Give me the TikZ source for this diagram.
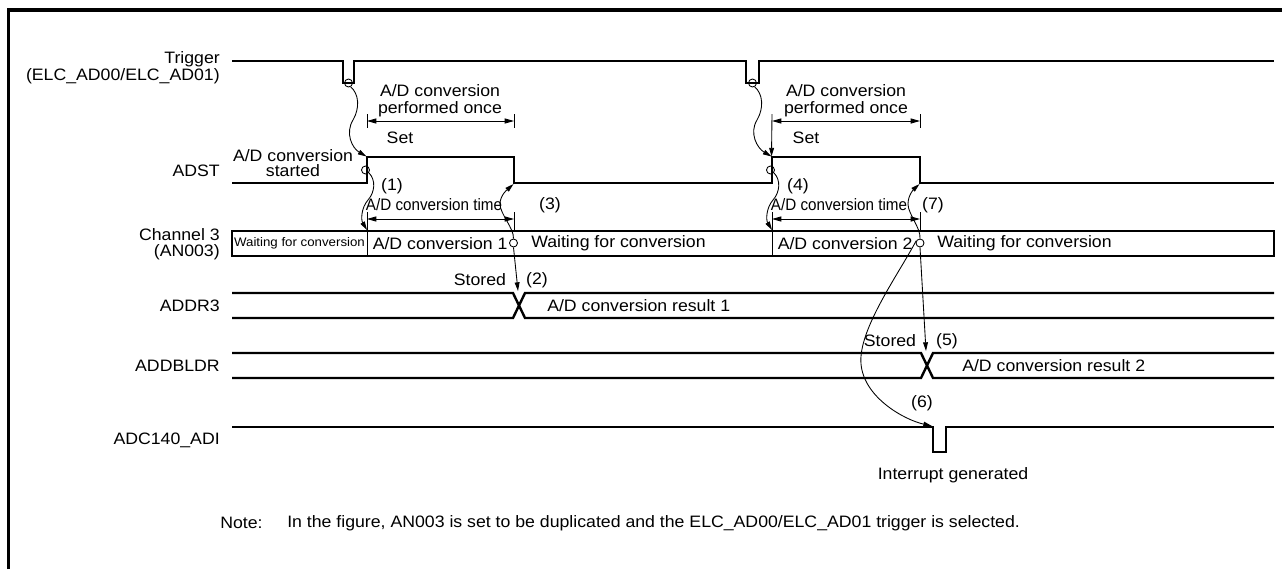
\documentclass[tikz,border=0pt]{standalone}
\usepackage{fontspec}
\setmainfont{Liberation Sans}[FakeStretch=1.07]
\newfontfamily\condfont{Liberation Sans}[FakeStretch=0.92]
\usetikzlibrary{arrows.meta}
\begin{document}
\begin{tikzpicture}[x=0.75pt,y=-0.75pt,
  sig/.style={line width=1.8pt,line join=miter},
  thinl/.style={line width=0.65pt},
  conn/.style={line width=0.65pt,-{Triangle[length=6.5pt,width=3.6pt]}},
  dimarr/.style={line width=0.65pt,{Triangle[length=7pt,width=3.8pt]}-{Triangle[length=7pt,width=3.8pt]}},
  circ/.style={circle,draw,line width=0.65pt,minimum size=6pt,inner sep=0pt},
  txt/.style={inner sep=0pt,font=\fontsize{12.4}{14}\selectfont},
]
\useasboundingbox (0,0) rectangle (1282,569);
% frame
\draw[line width=2.5pt] (8.5,569) -- (8.5,10) -- (1282,10);

% ---- signal labels
\node[txt,anchor=east,align=right,font=\fontsize{12.4}{10.4}\selectfont] (lTrig) at (220,68) {Trigger\\(ELC\_AD00/ELC\_AD01)};
\node[txt,anchor=east] (lAdst) at (220,171) {ADST};
\node[txt,anchor=east,align=right,font=\fontsize{12.4}{12.4}\selectfont] (lCh) at (220,244) {Channel 3\\(AN003)};
\node[txt,anchor=east] (lAddr) at (220,306) {ADDR3};
\node[txt,anchor=east] (lDbl) at (220,366) {ADDBLDR};
\node[txt,anchor=east] (lAdi) at (220,440) {ADC140\_ADI};

% ---- Trigger
\draw[sig] (232,61) -- (343,61) -- (343,83) -- (354,83) -- (354,61) -- (746,61) -- (746,83) -- (759,83) -- (759,61) -- (1274,61);
\node[circ] (T1) at (348.5,83) {};
\node[circ] (T2) at (752.5,83) {};

% ---- ADST
\draw[sig] (232,183) -- (367,183) -- (367,157) -- (514,157) -- (514,183) -- (772,183) -- (772,157) -- (920,157) -- (920,183) -- (1274,183);
\coordinate (A1) at (366.5,156.5);
\coordinate (A2) at (771.5,156.5);
\coordinate (F1) at (513.5,184);
\coordinate (F2) at (919.5,184);
\node[circ] (R1) at (365.5,170) {};
\node[circ] (R2) at (770.5,170) {};

% ---- Channel 3 box
\draw[sig] (232,231) rectangle (1274,256);
\draw[thinl] (367,231) -- (367,256);
\draw[thinl] (772,231) -- (772,256);
\coordinate (D1) at (367,230);
\coordinate (D2) at (772,230);
\node[txt,font=\fontsize{9.3}{11}\selectfont] (w0) at (299.5,243.5) {Waiting for conversion};
\node[txt,anchor=west] (c1) at (372.5,243.5) {A/D conversion 1};
\node[circ] (B1) at (513.5,243) {};
\node[txt,anchor=west] (w1) at (531,243.5) {Waiting for conversion};
\node[txt,anchor=west] (c2) at (777.5,243.5) {A/D conversion 2};
\node[circ] (B2) at (920,243) {};
\node[txt,anchor=west] (w2) at (937,243.5) {Waiting for conversion};

% ---- ADDR3
\draw[sig] (232,293) -- (513,293) -- (525,318) -- (1274,318);
\draw[sig] (232,318) -- (513,318) -- (525,293) -- (1274,293);
\coordinate (X1) at (518,291);
\node[txt] (st1) at (480,280) {Stored};
\node[txt] (n2) at (537,280) {(2)};
\node[txt,anchor=west] (r1) at (547,306) {A/D conversion result 1};

% ---- ADDBLDR
\draw[sig] (232,353) -- (921,353) -- (933,378) -- (1274,378);
\draw[sig] (232,378) -- (921,378) -- (933,353) -- (1274,353);
\coordinate (X2) at (926,351);
\node[txt] (st2) at (890,341) {Stored};
\node[txt] (n5) at (947,341) {(5)};
\node[txt,anchor=west] (r2) at (962,366) {A/D conversion result 2};

% ---- ADC140_ADI
\draw[sig] (232,427) -- (933,427) -- (933,452) -- (946,452) -- (946,427) -- (1274,427);
\coordinate (P) at (932,426);
\node[txt] (n6) at (922,403) {(6)};
\node[txt] (intg) at (953,475) {Interrupt generated};

% ---- dimension: performed once
\node[txt,align=center,font=\fontsize{12.4}{12.8}\selectfont] (po1) at (440,101) {A/D conversion\\performed once};
\node[txt,align=center,font=\fontsize{12.4}{12.8}\selectfont] (po2) at (846,101) {A/D conversion\\performed once};
\draw[thinl] (367,114) -- (367,128);
\draw[thinl] (514,114) -- (514,128);
\draw[dimarr] (367,121) -- (514,121);
\draw[thinl] (920,114) -- (920,128);
\draw[dimarr] (772,121) -- (920,121);
\coordinate (S2) at (772,114);
\draw[conn] (S2) -- (A2);
\node[txt] (set1) at (400,138) {Set};
\node[txt] (set2) at (806,138) {Set};

% ---- dimension: conversion time
\draw[thinl] (367,212) -- (367,231);
\draw[thinl] (514,212) -- (514,231);
\draw[dimarr] (367,219) -- (514,219);
\draw[thinl] (772,212) -- (772,231);
\draw[thinl] (920,212) -- (920,231);
\draw[dimarr] (772,219) -- (920,219);
\node[txt,font=\condfont\fontsize{12.4}{14}\selectfont] (ct1) at (434,205) {A/D conversion time};
\node[txt,font=\condfont\fontsize{12.4}{14}\selectfont] (ct2) at (839,205) {A/D conversion time};

% ---- other labels
\node[txt,align=center,font=\fontsize{12.4}{11.4}\selectfont] (ads) at (293,163) {A/D conversion\\started};
\node[txt] (n1) at (392,186) {(1)};
\node[txt] (n4) at (798,186) {(4)};
\node[txt] (n3) at (550,205) {(3)};
\node[txt] (n7) at (933,205) {(7)};

% ---- connectors
\draw[conn] (T1.-60) .. controls (359,94) and (360,108) .. (353,120) .. controls (345,133) and (352,148) .. (A1);
\draw[conn] (T2.-60) .. controls (763,94) and (764,108) .. (757,120) .. controls (749,133) and (757,148) .. (A2);
\draw[conn] (R1.-40) .. controls (376,180) and (375,192) .. (368,200) .. controls (361,208) and (361,220) .. (D1);
\draw[conn] (R2.-40) .. controls (781,180) and (780,192) .. (773,200) .. controls (766,208) and (766,220) .. (D2);
\draw[conn] (B1.north) .. controls (514,228) and (500,214) .. (500,204) .. controls (500,195) and (508,189) .. (F1);
\draw[conn] (B2.north) .. controls (921,228) and (908,214) .. (908,204) .. controls (908,195) and (914,189) .. (F2);
\draw[conn] (B1.south) -- (X1);
\draw[conn] (B2.south) -- (X2);
\draw[conn] (B2.150) .. controls (898,275) and (858,330) .. (861,364) .. controls (864,398) and (905,420) .. (P);

% ---- note
\node[txt,anchor=west] (note) at (220,523) {Note:};
\node[txt,anchor=west] (notet) at (287,523) {In the figure, AN003 is set to be duplicated and the ELC\_AD00/ELC\_AD01 trigger is selected.};
\end{tikzpicture}
\end{document}
